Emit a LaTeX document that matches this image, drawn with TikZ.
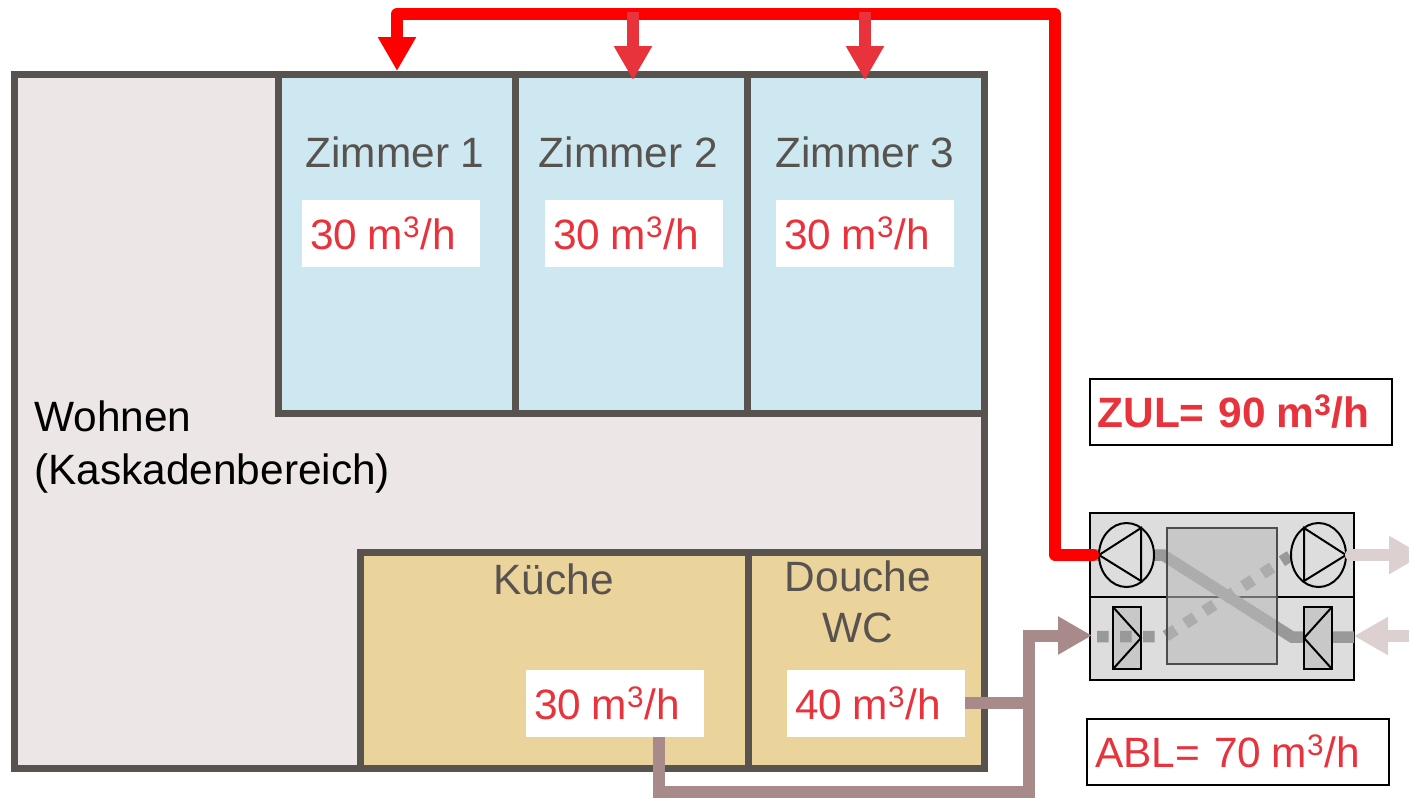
\documentclass[tikz,border=0pt]{standalone}
\usepackage{fontspec}
\setmainfont{Liberation Sans}
\usetikzlibrary{arrows.meta}
\def\px{0.75pt}
\newcommand{\rate}[1]{#1 \kern-2.6pt m\textsuperscript{3}/h}
\definecolor{wallgray}{HTML}{595350}
\definecolor{wohnenfill}{HTML}{EDE6E6}
\definecolor{zimmerfill}{HTML}{CDE8F1}
\definecolor{nassfill}{HTML}{EAD49C}
\definecolor{wertred}{HTML}{E8323C}
\definecolor{ablbrown}{HTML}{A98A8A}
\definecolor{paleduct}{HTML}{DDD0D0}
\definecolor{ahufill}{HTML}{DDDDDD}
\definecolor{corefill}{HTML}{BABABA}
\definecolor{filterfill}{HTML}{C8C8C8}
\definecolor{ductgray}{HTML}{999999}
\tikzset{
    bigfont/.style={font=\fontsize{31.8}{39}\selectfont},
    room/.style={draw=wallgray, line width=7*\px, inner sep=0pt, outer sep=0pt},
    roomlabel/.style={bigfont, text=wallgray, inner sep=0pt},
    wert/.style={bigfont, text=wertred, fill=white, inner sep=0pt, inner xsep=8*\px, text width=162*\px, minimum height=67*\px, align=left},
    sumbox/.style={bigfont, text=wertred, fill=white, draw=black, line width=2*\px, inner sep=0pt, inner xsep=8*\px, text width=286*\px, minimum height=66*\px, align=left},
    headtip/.style={-{Triangle[length=34*\px, width=36*\px]}},
    zulduct/.style={draw=red, line width=12*\px, line join=round},
    zweig/.style={draw=wertred, line width=12*\px, headtip},
    ablduct/.style={draw=ablbrown, line width=12*\px},
    paleline/.style={draw=paleduct, line width=12*\px, headtip},
    ahupart/.style={draw=black, line width=2*\px},
    duct/.style={draw=ductgray, line width=11.5*\px}
}
\begin{document}
\begin{tikzpicture}[x=\px, y=-\px]
    \useasboundingbox (0,0) rectangle (1409,797);
    \clip (0,0) rectangle (1409,797);

    % Rooms
    \node[room, fill=wohnenfill, minimum width=970*\px, minimum height=694*\px] (wohnen) at (499,421) {};
    \foreach \i/\cx/\w/\tx/\vx in {1/396.5/237/395/391, 2/631/232/628.5/634, 3/865.5/237/865/865} {
        \node[room, fill=zimmerfill, minimum width=\w*\px, minimum height=339*\px] (zimmer\i) at (\cx,243.5) {};
        \node[roomlabel, anchor=base] (label\i) at (\tx,167) {Zimmer \i};
        \node[wert] (wert\i) at (\vx,233.5) {\rate{30}};
    }
    \node[room, fill=nassfill, minimum width=388*\px, minimum height=216*\px] (kueche) at (554,660) {};
    \node[room, fill=nassfill, minimum width=236*\px, minimum height=216*\px] (douche) at (866,660) {};

    % Labels
    \node[bigfont, anchor=base west, inner sep=0pt] (wohnenlabel) at (34,431) {Wohnen};
    \node[bigfont, anchor=base west, inner sep=0pt] (kaskade) at (34,484) {(Kaskadenbereich)};
    \node[roomlabel, anchor=base] (kuechelabel) at (553.5,594) {Küche};
    \node[roomlabel, anchor=base] (douchelabel) at (858,591) {Douche};
    \node[roomlabel, anchor=base] (wclabel) at (858,642) {WC};
    \node[wert] (wertkueche) at (615,703.5) {\rate{30}};
    \node[wert] (wertdouche) at (876,703.5) {\rate{40}};
    \node[sumbox] (zul) at (1240.5,412) {\textbf{ZUL= \rate{90}}};
    \node[sumbox] (abl) at (1238,751.5) {ABL= \rate{70}};

    % Ventilation unit
    \node[ahupart, fill=ahufill, minimum width=264*\px, minimum height=167*\px, inner sep=0pt, outer sep=0pt] (ahu) at (1222,596.5) {};
    \draw[ahupart] (ahu.west) -- (ahu.east);
    \filldraw[ahupart, fill=filterfill] (1113,607) rectangle (1141,669);
    \draw[ahupart] (1113,607) -- (1141,638) -- (1113,669);
    \coordinate (ahuzul) at (1093,554.5);
    \coordinate (ahuabl) at (1092,635.5);
    \coordinate (ahufort) at (1351,555);
    \coordinate (ahuaussen) at (1354,636);
    \draw[duct] (1092,555) -- (1163,555) -- (1292,637) -- (1354,637);
    \draw[duct, dash pattern=on 11.5*\px off 11.5*\px] (1097,636.5) -- (1165,636.5) -- (1290,556);
    \node[draw=black!70, line width=1.4*\px, fill=corefill, fill opacity=0.6, minimum width=110*\px, minimum height=136*\px, inner sep=0pt, outer sep=0pt] (core) at (1222,596) {};
    \filldraw[ahupart, fill=filterfill] (1304,607) rectangle (1332,669);
    \draw[ahupart] (1332,607) -- (1304,638) -- (1332,669);
    \filldraw[ahupart, fill=ahufill] (1126.5,555) ellipse [x radius=27.5, y radius=32];
    \draw[ahupart] (1099,555) -- (1141,528) -- (1141,581) -- cycle;
    \filldraw[ahupart, fill=ahufill] (1318.5,555) ellipse [x radius=27.5, y radius=32];
    \draw[ahupart] (1346,555) -- (1304,528) -- (1304,581) -- cycle;

    % Supply air
    \coordinate (zulnord) at (1055,14);
    \coordinate (zulwest) at (397,14);
    \coordinate (zimmerein1) at (397,71);
    \coordinate (zimmerein2) at (633,80);
    \coordinate (zimmerein3) at (865,80);
    \coordinate (abzweig2) at (633,12);
    \coordinate (abzweig3) at (865,12);
    \draw[zulduct, line cap=round] (ahuzul) -| (zulnord) -- (zulwest);
    \draw[zulduct, headtip] (zulwest) -- (zimmerein1);
    \draw[zweig] (abzweig2) -- (zimmerein2);
    \draw[zweig] (abzweig3) -- (zimmerein3);

    % Extract air
    \coordinate (kuecheab) at (659,737);
    \coordinate (abluntenw) at (659,792);
    \coordinate (abluntene) at (1028.5,792);
    \coordinate (ablknick) at (1028.5,703);
    \coordinate (ablhoch) at (1028.5,635.5);
    \draw[ablduct] (kuecheab) -- (abluntenw) -- (abluntene) -- (ablknick);
    \draw[ablduct, headtip] (wertdouche.east |- ablknick) -- (ablknick) -- (ablhoch) -- (ahuabl);

    % Outside air
    \coordinate (fortend) at (1423,555);
    \coordinate (aussenstart) at (1440,636);
    \draw[paleline, line cap=round] (ahufort) -- (fortend);
    \draw[paleline] (aussenstart) -- (ahuaussen);
\end{tikzpicture}
\end{document}
